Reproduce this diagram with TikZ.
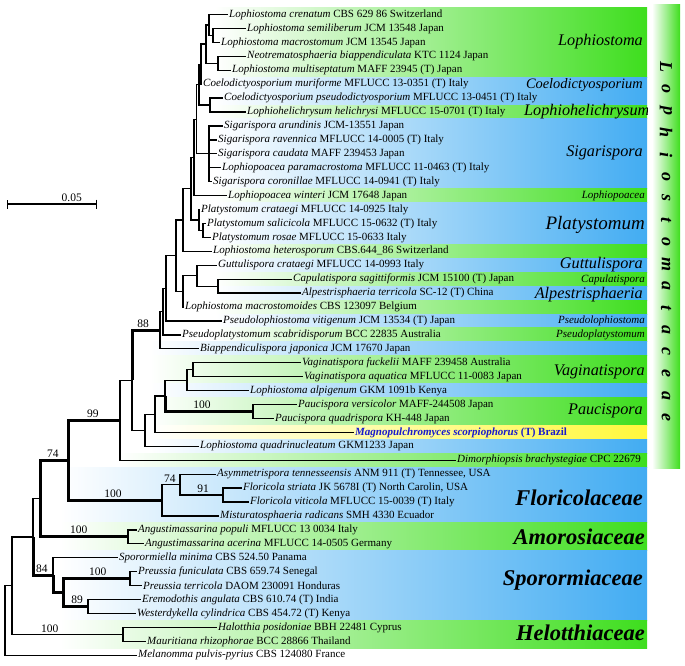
\documentclass[tikz,border=0pt]{standalone}
\usepackage{fontspec}
\setmainfont{Liberation Serif}
\usepackage{xcolor}
\usepackage{tikz}
\usetikzlibrary{arrows.meta}

\definecolor{bandgreen}{RGB}{62,222,30}
\definecolor{bandblue}{RGB}{66,172,242}
\definecolor{bandyellow}{RGB}{255,248,60}
\definecolor{magnoblue}{RGB}{25,25,205}

\tikzset{
  tip/.style={anchor=west, inner xsep=1pt, inner ysep=0pt, font=\fontsize{11}{12}\selectfont},
  br/.style={line width=1.3pt},
  strong/.style={line width=3pt},
  boot/.style={above, inner sep=1.5pt, font=\fontsize{11.5}{12}\selectfont},
  genus/.style={anchor=east, inner sep=0pt, font=\itshape\fontsize{16.2}{18}\selectfont},
  smallgenus/.style={anchor=east, inner sep=0pt, font=\itshape\fontsize{11}{12}\selectfont},
  family/.style={anchor=east, inner sep=0pt, font=\bfseries\itshape\fontsize{22.5}{24}\selectfont},
}

\begin{document}
\begin{tikzpicture}[x=1pt, y=-1pt]
        \useasboundingbox (0,0) rectangle (685,666);

        % coloured bands behind the names
        \shade[left color=white, right color=bandgreen] (215,7.5) rectangle (647,77.2);
        \shade[left color=white, right color=bandblue] (215,77.2) rectangle (647,105.1);
        \shade[left color=white, right color=bandgreen] (215,105.1) rectangle (647,119.0);
        \shade[left color=white, right color=bandblue] (215,119.0) rectangle (647,188.6);
        \shade[left color=white, right color=bandgreen] (215,188.6) rectangle (647,202.6);
        \shade[left color=white, right color=bandblue] (215,202.6) rectangle (647,244.3);
        \shade[left color=white, right color=bandgreen] (215,244.3) rectangle (647,258.2);
        \shade[left color=white, right color=bandblue] (215,258.2) rectangle (647,272.2);
        \shade[left color=white, right color=bandgreen] (215,272.2) rectangle (647,286.1);
        \shade[left color=white, right color=bandblue] (215,286.1) rectangle (647,300.1);
        \shade[left color=white, right color=bandgreen] (215,300.1) rectangle (647,314.0);
        \shade[left color=white, right color=bandblue] (215,314.0) rectangle (647,327.9);
        \shade[left color=white, right color=bandgreen] (215,327.9) rectangle (647,341.9);
        \shade[left color=white, right color=bandblue] (150,341.9) rectangle (647,355.8);
        \shade[left color=white, right color=bandgreen] (150,355.8) rectangle (647,383.6);
        \shade[left color=white, right color=bandblue] (150,383.6) rectangle (647,397.6);
        \shade[left color=white, right color=bandgreen] (150,397.6) rectangle (647,425.5);
        \shade[left color=white, right color=bandyellow] (150,425.5) rectangle (647,439.4);
        \shade[left color=white, right color=bandblue] (150,439.4) rectangle (647,453.3);
        \shade[left color=white, right color=bandgreen] (120,453.3) rectangle (647,467.2);
        \shade[left color=white, right color=bandblue] (60,467.2) rectangle (647,522.9);
        \shade[left color=white, right color=bandgreen] (60,522.9) rectangle (647,550.8);
        \shade[left color=white, right color=bandblue] (60,550.8) rectangle (647,620.5);
        \shade[left color=white, right color=bandgreen] (60,620.5) rectangle (647,648.3);
        \shade[left color=white, right color=bandgreen] (652,5) rectangle (680,468);

        % tips
        \node[tip] at (228,14.5) (t1) {\textit{Lophiostoma crenatum} CBS 629 86 Switzerland};
        \node[tip] at (246,28.4) (t2) {\textit{Lophiostoma semiliberum} JCM 13548 Japan};
        \node[tip] at (220,42.4) (t3) {\textit{Lophiostoma macrostomum} JCM 13545 Japan};
        \node[tip] at (246,56.3) (t4) {\textit{Neotrematosphaeria biappendiculata} KTC 1124 Japan};
        \node[tip] at (231,70.2) (t5) {\textit{Lophiostoma multiseptatum} MAFF 23945 (T) Japan};
        \node[tip] at (202,84.2) (t6) {\textit{Coelodictyosporium muriforme} MFLUCC 13-0351 (T) Italy};
        \node[tip] at (223,98.1) (t7) {\textit{Coelodictyosporium pseudodictyosporium} MFLUCC 13-0451 (T) Italy};
        \node[tip] at (246,112.0) (t8) {\textit{Lophiohelichrysum helichrysi} MFLUCC 15-0701 (T) Italy};
        \node[tip] at (223,125.9) (t9) {\textit{Sigarispora arundinis} JCM-13551 Japan};
        \node[tip] at (217,139.9) (t10) {\textit{Sigarispora ravennica} MFLUCC 14-0005 (T) Italy};
        \node[tip] at (217,153.8) (t11) {\textit{Sigarispora caudata} MAFF 239453 Japan};
        \node[tip] at (221,167.7) (t12) {\textit{Lophiopoacea paramacrostoma} MFLUCC 11-0463 (T) Italy};
        \node[tip] at (212,181.7) (t13) {\textit{Sigarispora coronillae} MFLUCC 14-0941 (T) Italy};
        \node[tip] at (227,195.6) (t14) {\textit{Lophiopoacea winteri} JCM 17648 Japan};
        \node[tip] at (200,209.5) (t15) {\textit{Platystomum crataegi} MFLUCC 14-0925 Italy};
        \node[tip] at (206,223.5) (t16) {\textit{Platystomum salicicola} MFLUCC 15-0632 (T) Italy};
        \node[tip] at (211,237.4) (t17) {\textit{Platystomum rosae} MFLUCC 15-0633 Italy};
        \node[tip] at (212,251.3) (t18) {\textit{Lophiostoma heterosporum} CBS.644\_86 Switzerland};
        \node[tip] at (217,265.2) (t19) {\textit{Guttulispora crataegi} MFLUCC 14-0993 Italy};
        \node[tip] at (292,279.2) (t20) {\textit{Capulatispora sagittiformis} JCM 15100 (T) Japan};
        \node[tip] at (301,293.1) (t21) {\textit{Alpestrisphaeria terricola} SC-12 (T) China};
        \node[tip] at (184,307.0) (t22) {\textit{Lophiostoma macrostomoides} CBS 123097 Belgium};
        \node[tip] at (222,321.0) (t23) {\textit{Pseudolophiostoma vitigenum} JCM 13534 (T) Japan};
        \node[tip] at (181,334.9) (t24) {\textit{Pseudoplatystomum scabridisporum} BCC 22835 Australia};
        \node[tip] at (199,348.8) (t25) {\textit{Biappendiculispora japonica} JCM 17670 Japan};
        \node[tip] at (301,362.8) (t26) {\textit{Vaginatispora fuckelii} MAFF 239458 Australia};
        \node[tip] at (303,376.7) (t27) {\textit{Vaginatispora aquatica} MFLUCC 11-0083 Japan};
        \node[tip] at (249,390.6) (t28) {\textit{Lophiostoma alpigenum} GKM 1091b Kenya};
        \node[tip] at (297,404.5) (t29) {\textit{Paucispora versicolor} MAFF-244508 Japan};
        \node[tip] at (274,418.5) (t30) {\textit{Paucispora quadrispora} KH-448 Japan};
        \node[tip, text=magnoblue] at (354,432.4) (t31) {\bfseries\itshape Magnopulchromyces scorpiophorus \upshape (T) Brazil};
        \node[tip] at (199,446.3) (t32) {\textit{Lophiostoma quadrinucleatum} GKM1233 Japan};
        \node[tip] at (456,460.3) (t33) {\textit{Dimorphiopsis brachystegiae} CPC 22679};
        \node[tip] at (216,474.2) (t34) {\textit{Asymmetrispora tennesseensis} ANM 911 (T) Tennessee, USA};
        \node[tip] at (242,488.1) (t35) {\textit{Floricola striata} JK 5678I (T) North Carolin, USA};
        \node[tip] at (249,502.1) (t36) {\textit{Floricola viticola} MFLUCC 15-0039 (T) Italy};
        \node[tip] at (219,516.0) (t37) {\textit{Misturatosphaeria radicans} SMH 4330 Ecuador};
        \node[tip] at (137,529.9) (t38) {\textit{Angustimassarina populi} MFLUCC 13 0034 Italy};
        \node[tip] at (144,543.8) (t39) {\textit{Angustimassarina acerina} MFLUCC 14-0505 Germany};
        \node[tip] at (118,557.8) (t40) {\textit{Sporormiella minima} CBS 524.50 Panama};
        \node[tip] at (137,571.7) (t41) {\textit{Preussia funiculata} CBS 659.74 Senegal};
        \node[tip] at (142,585.6) (t42) {\textit{Preussia terricola} DAOM 230091 Honduras};
        \node[tip] at (141,599.6) (t43) {\textit{Eremodothis angulata} CBS 610.74 (T) India};
        \node[tip] at (136,613.5) (t44) {\textit{Westerdykella cylindrica} CBS 454.72 (T) Kenya};
        \node[tip] at (217,627.4) (t45) {\textit{Halotthia posidoniae} BBH 22481 Cyprus};
        \node[tip] at (146,641.4) (t46) {\textit{Mauritiana rhizophorae} BCC 28866 Thailand};
        \node[tip] at (137,655.3) (t47) {\textit{Melanomma pulvis-pyrius} CBS 124080 France};

        % inner nodes
        \coordinate (nA) at (213,35.4);
        \coordinate (nB) at (209,25.0);
        \coordinate (nC) at (218,63.3);
        \coordinate (nLo) at (206,44.1);
        \coordinate (nCm) at (201,64.2);
        \coordinate (nE) at (210,105.1);
        \coordinate (nM) at (199,84.6);
        \coordinate (nS) at (209,153.8);
        \coordinate (nF) at (196.5,119.2);
        \coordinate (nFw) at (194,157.4);
        \coordinate (nPb) at (203,230.5);
        \coordinate (nPl) at (199,220.0);
        \coordinate (nFF) at (191,188.7);
        \coordinate (nG) at (183,220.0);
        \coordinate (nCA) at (218,286.2);
        \coordinate (nGt) at (197,275.7);
        \coordinate (nW) at (183,291.4);
        \coordinate (nU) at (176,255.7);
        \coordinate (nX) at (166,288.4);
        \coordinate (nY) at (163,311.6);
        \coordinate (nQ) at (160,330.2);
        \coordinate (nV) at (193,369.8);
        \coordinate (nVa) at (187,380.2);
        \coordinate (nPau) at (253,411.5);
        \coordinate (nD) at (165,395.9);
        \coordinate (nMa) at (155,414.2);
        \coordinate (nLq) at (145,430.3);
        \coordinate (nAa) at (132,380.2);
        \coordinate (n99) at (120,420.2);
        \coordinate (nFv) at (223,495.1);
        \coordinate (nAs) at (180,484.7);
        \coordinate (nFl) at (162,500.4);
        \coordinate (nK) at (68,460.3);
        \coordinate (n74) at (40,498.6);
        \coordinate (nAm) at (128,536.9);
        \coordinate (nPr) at (130,578.7);
        \coordinate (nEr) at (88,606.6);
        \coordinate (nPE) at (63,592.6);
        \coordinate (nSp) at (53,575.2);
        \coordinate (nUp) at (33,536.9);
        \coordinate (nH) at (123,634.4);
        \coordinate (nN) at (12,585.6);
        \coordinate (nR) at (5,620.4);

        % branches
        \draw[br] (nA) |- (t2.west);
        \draw[br] (nA) |- (t3.west);
        \draw[br] (nB) |- (t1.west);
        \draw[br] (nB) |- (nA);
        \draw[br] (nC) |- (t4.west);
        \draw[br] (nC) |- (t5.west);
        \draw[br] (nLo) |- (nB);
        \draw[br] (nLo) |- (nC);
        \draw[br] (nCm) |- (nLo);
        \draw[br] (nCm) |- (t6.west);
        \draw[br] (nE) |- (t7.west);
        \draw[br] (nE) |- (t8.west);
        \draw[br] (nM) |- (nCm);
        \draw[br] (nM) |- (nE);
        \foreach \k in {9,...,13}
          \draw[br] (nS) |- (t\k.west);
        \draw[br] (nF) |- (nM);
        \draw[br] (nF) |- (nS);
        \draw[br] (nFw) |- (nF);
        \draw[br] (nFw) |- (t14.west);
        \draw[br] (nPb) |- (t16.west);
        \draw[br] (nPb) |- (t17.west);
        \draw[br] (nPl) |- (t15.west);
        \draw[br] (nPl) |- (nPb);
        \draw[br] (nFF) |- (nFw);
        \draw[br] (nFF) |- (nPl);
        \draw[br] (nG) |- (nFF);
        \draw[br] (nG) |- (t18.west);
        \draw[br] (nCA) |- (t20.west);
        \draw[br] (nCA) |- (t21.west);
        \draw[br] (nGt) |- (t19.west);
        \draw[br] (nGt) |- (nCA);
        \draw[br] (nW) |- (nGt);
        \draw[br] (nW) |- (t22.west);
        \draw[br] (nU) |- (nG);
        \draw[br] (nU) |- (nW);
        \draw[br] (nX) |- (nU);
        \draw[br] (nX) |- (t23.west);
        \draw[br] (nY) |- (nX);
        \draw[br] (nY) |- (t24.west);
        \draw[br] (nQ) |- (nY);
        \draw[br] (nQ) |- (t25.west);
        \draw[br] (nV) |- (t26.west);
        \draw[br] (nV) |- (t27.west);
        \draw[br] (nVa) |- (nV);
        \draw[br] (nVa) |- (t28.west);
        \draw[br] (nPau) |- (t29.west);
        \draw[br] (nPau) |- (t30.west);
        \draw[br] (nD) |- (nVa);
        \draw[strong] (nD) |- node[boot, pos=0.71] {100} (nPau);
        \draw[br] (nMa) |- (nD);
        \draw[br] (nMa) |- (t31.west);
        \draw[br] (nLq) |- (nMa);
        \draw[br] (nLq) |- (t32.west);
        \draw[strong] (nAa) |- node[boot, pos=0.7] {88} (nQ);
        \draw[br] (nAa) |- (nLq);
        \draw[br] (n99) |- (nAa);
        \draw[br] (n99) |- (t33.west);
        \draw[br] (nFv) |- (t35.west);
        \draw[br] (nFv) |- (t36.west);
        \draw[br] (nAs) |- (t34.west);
        \draw[br] (nAs) |- node[boot, pos=0.77] {91} (nFv);
        \draw[br] (nFl) |- node[boot, pos=0.72] {74} (nAs);
        \draw[br] (nFl) |- (t37.west);
        \draw[strong] (nK) |- node[boot, pos=0.74] {99} (n99);
        \draw[strong] (nK) |- node[boot, pos=0.74] {100} (nFl);
        \draw[strong] (n74) |- node[boot, pos=0.73] {74} (nK);
        \draw[br] (nAm) |- (t38.west);
        \draw[br] (nAm) |- (t39.west);
        \draw[strong] (n74) |- node[boot, pos=0.72] {100} (nAm);
        \draw[br] (nPr) |- (t41.west);
        \draw[br] (nPr) |- (t42.west);
        \draw[br] (nEr) |- (t43.west);
        \draw[br] (nEr) |- (t44.west);
        \draw[strong] (nPE) |- node[boot, pos=0.76] {100} (nPr);
        \draw[strong] (nPE) |- node[boot, pos=0.78] {89} (nEr);
        \draw[br] (nSp) |- (t40.west);
        \draw[strong] (nSp) |- (nPE);
        \draw[br] (nUp) |- (n74);
        \draw[strong] (nUp) |- node[boot, pos=0.72] {84} (nSp);
        \draw[br] (nH) |- (t45.west);
        \draw[br] (nH) |- (t46.west);
        \draw[br] (nN) |- (nUp);
        \draw[br] (nN) |- node[boot, pos=0.67] {100} (nH);
        \draw[br] (nR) |- (nN);
        \draw[br] (nR) |- (t47.west);

        % scale bar
        \coordinate (sbL) at (7,204);
        \coordinate (sbR) at (97,204);
        \draw[br, {Bar[width=9pt]}-{Bar[width=9pt]}] (sbL) -- node[boot, pos=0.72] {0.05} (sbR);

        % group names
        \node[genus] at (643,42) (gLophiostoma) {Lophiostoma};
        \node[genus, font=\itshape\fontsize{14.4}{16}\selectfont] at (643,85) (gCoelo) {Coelodictyosporium};
        \begin{scope}
          \clip (0,0) rectangle (647,666);
          \node[genus, anchor=west] at (524,112) (gLophiohel) {Lophiohelichrysum};
        \end{scope}
        \node[genus] at (643,153) (gSigar) {Sigarispora};
        \node[smallgenus] at (645,196) (gLophiopoa) {Lophiopoacea};
        \node[genus, font=\itshape\fontsize{19}{21}\selectfont] at (645,225) (gPlaty) {Platystomum};
        \node[genus] at (643,265) (gGuttu) {Guttulispora};
        \node[smallgenus] at (645,280) (gCapu) {Capulatispora};
        \node[genus] at (643,295) (gAlpes) {Alpestrisphaeria};
        \node[smallgenus] at (645,321) (gPseudolo) {Pseudolophiostoma};
        \node[smallgenus] at (645,335) (gPseudopl) {Pseudoplatystomum};
        \node[genus] at (645,372) (gVagin) {Vaginatispora};
        \node[genus] at (643,411) (gPauci) {Paucispora};
        \node[family] at (643,498) (fFlori) {Floricolaceae};
        \node[family] at (645,537) (fAmoro) {Amorosiaceae};
        \node[family] at (643,580) (fSporo) {Sporormiaceae};
        \node[family] at (645,633) (fHelot) {Helotthiaceae};

        % family name along the bar
        \foreach \ch [count=\i] in {L,o,p,h,i,o,s,t,o,m,a,t,a,c,e,a,e}
          \node[rotate=-90, font=\bfseries\itshape\fontsize{18}{20}\selectfont] at (666,{67+(\i-1)*21.9}) (bar\i) {\ch};
        \end{tikzpicture}
\end{document}
